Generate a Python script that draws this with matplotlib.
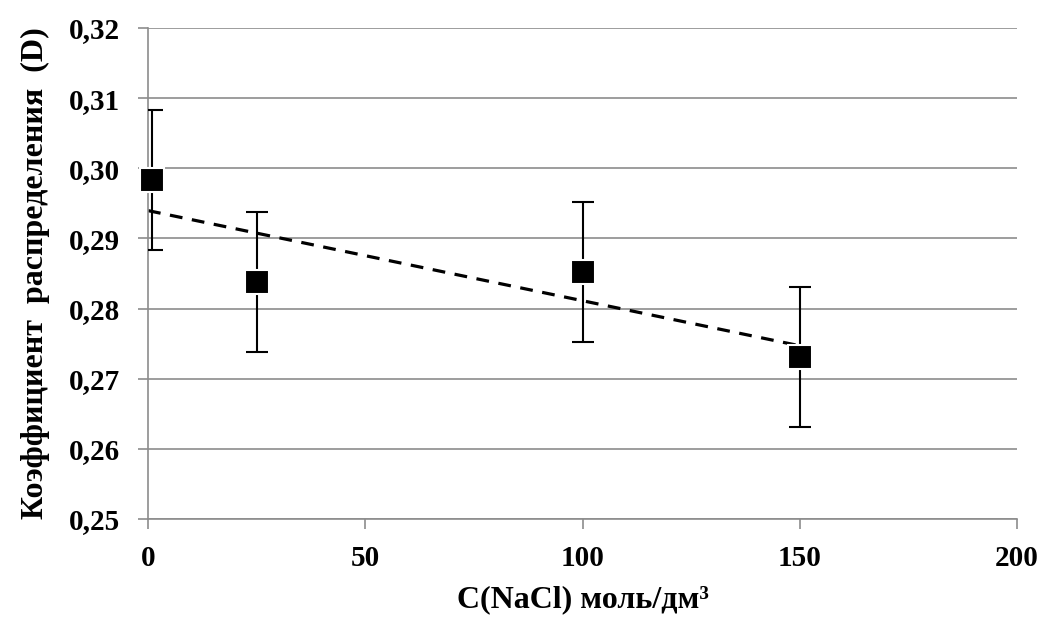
import numpy as np
import matplotlib.pyplot as plt
from matplotlib.ticker import FuncFormatter

# data
conc = [1, 25, 100, 150]
coef = [0.2983, 0.2838, 0.2852, 0.2731]
err = [0.01, 0.01, 0.01, 0.01]

x_ticks = [0, 50, 100, 150, 200]
y_ticks = [0.25, 0.26, 0.27, 0.28, 0.29, 0.30, 0.31, 0.32]

plt.rcParams['font.family'] = ['Liberation Serif', 'DejaVu Serif']
plt.rcParams['font.weight'] = 'bold'
plt.rcParams['axes.labelweight'] = 'bold'

fig = plt.figure(figsize=(10.41, 6.21), dpi=100)
ax = fig.add_axes([0.1422, 0.1643, 0.8348, 0.7906])

ax.set_xlim(0, 200)
ax.set_ylim(0.25, 0.32)
ax.set_xticks(x_ticks)
ax.set_yticks(y_ticks)
ax.yaxis.set_major_formatter(FuncFormatter(lambda v, p: f"{v:.2f}".replace(".", ",")))
ax.xaxis.set_major_formatter(FuncFormatter(lambda v, p: f"{v:.0f}"))

ax.grid(axis='y', color='#8c8c8c', lw=1.2)
ax.set_axisbelow(True)
for s in ['top', 'right']:
    ax.spines[s].set_visible(False)
for s in ['left', 'bottom']:
    ax.spines[s].set_color('#8c8c8c')
    ax.spines[s].set_linewidth(1.2)
ax.tick_params(axis='both', colors='#8c8c8c', length=7, width=1.2,
               labelcolor='black', labelsize=21)
ax.tick_params(axis='y', pad=13)
ax.tick_params(axis='x', pad=12)

# linear trend
k, b = np.polyfit(conc, coef, 1)
xs = np.array([0, max(conc)])
ax.plot(xs, k * xs + b, ls=(0, (4, 3)), color='black', lw=2.3, zorder=2)

eb = ax.errorbar(conc, coef, yerr=err, fmt='s', color='black', ms=17.5,
                 mec='white', mew=1.5, ecolor='black', elinewidth=1.5,
                 capsize=8, capthick=1.5, zorder=3)
eb.lines[0].set_clip_on(False)

ax.set_xlabel("C(NaCl) моль/дм³", fontsize=23, labelpad=9)
ax.set_ylabel("Коэффициент  распределения  (D)", fontsize=23, labelpad=14)

fig.savefig("out.png", dpi=100)
